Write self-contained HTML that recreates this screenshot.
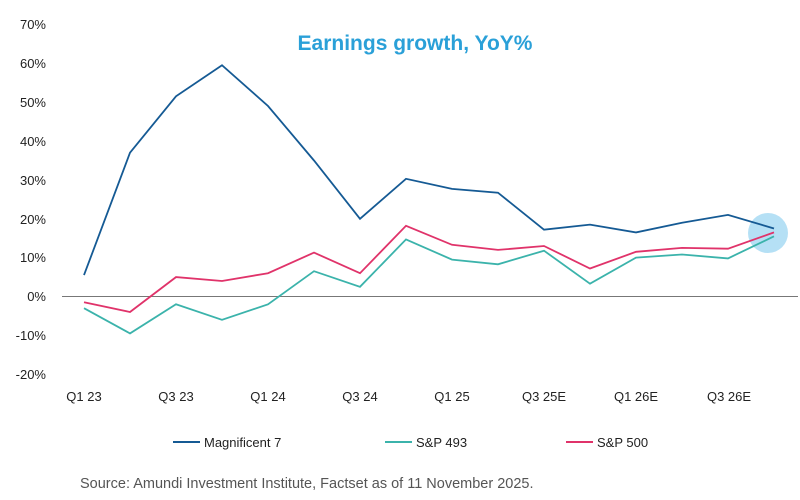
<!DOCTYPE html>
<html><head><meta charset="utf-8"><style>
body{margin:0;background:#fff;}
svg{display:block;font-family:"Liberation Sans",Arial,sans-serif;}
</style></head><body>
<svg width="800" height="500" viewBox="0 0 800 500" xmlns="http://www.w3.org/2000/svg">
<rect width="800" height="500" fill="#fff"/>
<text x="415" y="50" text-anchor="middle" font-size="21" font-weight="bold" fill="#2aa0d8">Earnings growth, YoY%</text>
<g font-size="13" fill="#222" text-anchor="end">
<text x="46" y="29">70%</text>
<text x="46" y="68">60%</text>
<text x="46" y="107">50%</text>
<text x="46" y="146">40%</text>
<text x="46" y="185">30%</text>
<text x="46" y="224">20%</text>
<text x="46" y="262">10%</text>
<text x="46" y="301">0%</text>
<text x="46" y="340">-10%</text>
<text x="46" y="379">-20%</text>
</g>
<line x1="62" y1="296.5" x2="798" y2="296.5" stroke="#777" stroke-width="1"/>
<g font-size="13" fill="#222" text-anchor="middle">
<text x="84" y="401">Q1 23</text>
<text x="176" y="401">Q3 23</text>
<text x="268" y="401">Q1 24</text>
<text x="360" y="401">Q3 24</text>
<text x="452" y="401">Q1 25</text>
<text x="544" y="401">Q3 25E</text>
<text x="636" y="401">Q1 26E</text>
<text x="729" y="401">Q3 26E</text>
</g>
<circle cx="768" cy="233" r="20" fill="#a8dbf3" opacity="0.85"/>
<polyline fill="none" stroke="#3bb3ab" stroke-width="1.8" points="84,308.2 130,333.4 176,304.3 222,319.8 268,304.3 314,271.2 360,286.8 406,239.4 452,259.6 498,264.3 544,250.7 590,283.7 636,257.6 682,254.5 728,258.4 774,236.3"/>
<polyline fill="none" stroke="#e0336a" stroke-width="1.8" points="84,302.3 130,312.0 176,277.1 222,281.0 268,273.2 314,252.6 360,273.2 406,225.8 452,244.8 498,249.9 544,246.0 590,268.5 636,251.8 682,247.9 728,248.7 774,232.4"/>
<polyline fill="none" stroke="#155a94" stroke-width="1.8" points="84,275.1 130,152.7 176,96.3 222,65.2 268,106.0 314,160.5 360,218.8 406,178.8 452,188.9 498,192.7 544,229.7 590,224.6 636,232.4 682,222.7 728,214.9 774,228.5"/>
<line x1="173" y1="442" x2="200" y2="442" stroke="#155a94" stroke-width="2"/>
<text x="204" y="447" font-size="13" fill="#222">Magnificent 7</text>
<line x1="385" y1="442" x2="412" y2="442" stroke="#3bb3ab" stroke-width="2"/>
<text x="416" y="447" font-size="13" fill="#222">S&amp;P 493</text>
<line x1="566" y1="442" x2="593" y2="442" stroke="#e0336a" stroke-width="2"/>
<text x="597" y="447" font-size="13" fill="#222">S&amp;P 500</text>
<text x="80" y="488" font-size="14.5" fill="#555">Source: Amundi Investment Institute, Factset as of 11 November 2025.</text>
</svg>
</body></html>
